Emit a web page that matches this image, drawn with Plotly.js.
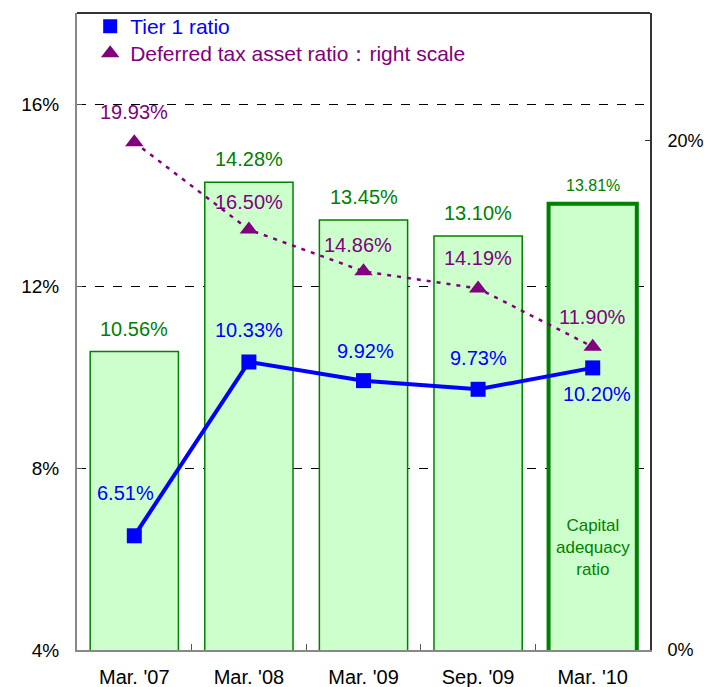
<!DOCTYPE html>
<html>
<head>
<meta charset="utf-8">
<script src="https://cdn.plot.ly/plotly-3.0.1.min.js"></script>
<style>html,body{margin:0;padding:0;background:#fff;}#chart{width:704px;height:687px;}</style>
</head>
<body>
<div id="chart"></div>
<script>
// ---- data ----
const categories = ["Mar. '07", "Mar. '08", "Mar. '09", "Sep. '09", "Mar. '10"];
const capitalAdequacy = [10.56, 14.28, 13.45, 13.10, 13.81];
const tier1 = [6.51, 10.33, 9.92, 9.73, 10.20];
const deferredTax = [19.93, 16.50, 14.86, 14.19, 11.90];
const leftTicks = [4, 8, 12, 16];
const leftTickText = ["4%", "8%", "12%", "16%"];
const rightTicks = [0, 20];
const rightTickText = ["0%", "20%"];

// ---- styling ----
const FONT = "Liberation Sans, Arial, sans-serif";
const GREEN = "#008000";
const BLUE = "#0000ff";
const PURPLE = "#800080";
const barLineWidths = [1.5, 1.5, 1.5, 1.5, 4];
const barLabelSizes = [20, 20, 20, 20, 16];
const barLabelShift = [23, 23, 23, 23, 18];
const tierShift = [43, 32, 30, 31, -26];
const tierXShift = [-9, 0, 2, 0, 4];
const dtaShift = [30, 28, 26, 30, 30];
const dtaXShift = [0, 0, -6, 0, 0];

const traces = [
  {
    type: 'bar', x: categories, y: capitalAdequacy, width: 0.77,
    marker: {color: '#ccffcc', line: {color: GREEN, width: barLineWidths}},
    showlegend: false, hoverinfo: 'skip', yaxis: 'y'
  },
  {
    type: 'scatter', mode: 'lines+markers', x: categories, y: deferredTax, yaxis: 'y2',
    line: {color: PURPLE, width: 2.5, dash: '4px,6px'},
    marker: {symbol: 'triangle-up', size: 16, color: PURPLE},
    showlegend: false
  },
  {
    type: 'scatter', mode: 'lines+markers', x: categories, y: tier1, yaxis: 'y',
    line: {color: BLUE, width: 4},
    marker: {symbol: 'square', size: 15, color: BLUE},
    showlegend: false
  },
  {
    type: 'scatter', mode: 'markers', x: [null], y: [null], legend: 'legend',
    marker: {symbol: 'square', size: 14, color: BLUE},
    name: '<span style="color:' + BLUE + '">Tier 1 ratio</span>'
  },
  {
    type: 'scatter', mode: 'markers', x: [null], y: [null], legend: 'legend2',
    marker: {symbol: 'triangle-up', size: 16, color: PURPLE},
    name: '<span style="color:' + PURPLE + '">Deferred tax asset ratio：right scale</span>'
  }
];

const annotations = [];
categories.forEach((c, i) => {
  annotations.push({
    x: c, y: capitalAdequacy[i], xref: 'x', yref: 'y', yshift: barLabelShift[i],
    text: capitalAdequacy[i].toFixed(2) + '%', showarrow: false,
    font: {family: FONT, size: barLabelSizes[i], color: GREEN}
  });
  annotations.push({
    x: c, y: tier1[i], xref: 'x', yref: 'y', yshift: tierShift[i], xshift: tierXShift[i],
    text: tier1[i].toFixed(2) + '%', showarrow: false,
    font: {family: FONT, size: 20, color: BLUE}
  });
  annotations.push({
    x: c, y: deferredTax[i], xref: 'x', yref: 'y2', yshift: dtaShift[i], xshift: dtaXShift[i],
    text: deferredTax[i].toFixed(2) + '%', showarrow: false,
    font: {family: FONT, size: 20, color: PURPLE}
  });
});
annotations.push({
  x: categories[4], y: 6.26, xref: 'x', yref: 'y',
  text: 'Capital<br>adequacy<br>ratio', showarrow: false,
  font: {family: FONT, size: 17, color: GREEN}
});

const legendBase = {
  xanchor: 'left', yanchor: 'top', bgcolor: 'rgba(0,0,0,0)',
  font: {family: FONT, size: 21}, itemwidth: 30
};

const layout = {
  width: 704, height: 687,
  margin: {l: 77, r: 54, t: 13, b: 37, autoexpand: false},
  paper_bgcolor: '#fff', plot_bgcolor: '#fff',
  font: {family: FONT, size: 19, color: '#000'},
  xaxis: {
    type: 'category', range: [-0.5, 4.5], showline: true, linecolor: '#888', linewidth: 2,
    ticks: 'inside', tickson: 'boundaries', ticklen: 6, tickcolor: '#555',
    showgrid: false, ticklabelstandoff: 8, tickfont: {family: FONT, size: 20}
  },
  yaxis: {
    range: [4, 18], tickvals: leftTicks, ticktext: leftTickText,
    showline: true, linecolor: '#888', linewidth: 2, ticks: 'inside', ticklen: 5, tickcolor: '#555',
    showgrid: true, gridcolor: '#000', gridwidth: 1, griddash: 'dash', zeroline: false,
    ticklabelstandoff: 12, tickfont: {family: FONT, size: 19}
  },
  yaxis2: {
    range: [0, 25], tickvals: rightTicks, ticktext: rightTickText, overlaying: 'y', side: 'right',
    showline: true, linecolor: '#333', linewidth: 2, ticks: 'inside', ticklen: 5, tickcolor: '#333',
    showgrid: false, zeroline: false, ticklabelstandoff: 12, tickfont: {family: FONT, size: 18}
  },
  shapes: [
    {type: 'line', xref: 'paper', yref: 'paper', x0: 0, x1: 1, y0: 1, y1: 1, line: {color: '#333', width: 2}}
  ],
  legend: Object.assign({x: 0.023, y: 1.011}, legendBase),
  legend2: Object.assign({x: 0.023, y: 0.9686}, legendBase),
  annotations: annotations,
  showlegend: true
};

Plotly.newPlot('chart', traces, layout, {displayModeBar: false, staticPlot: true});
</script>
</body>
</html>
